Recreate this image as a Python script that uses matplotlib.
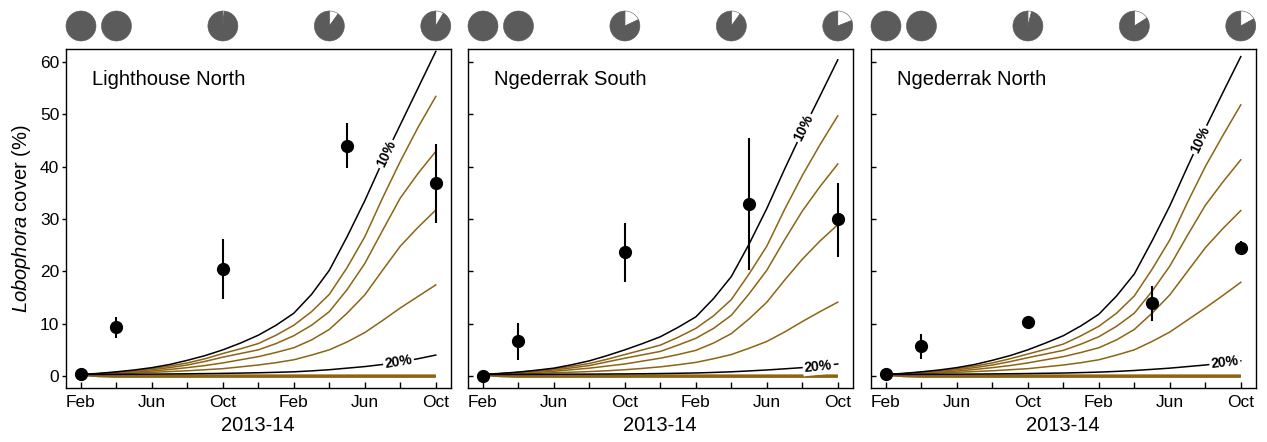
import numpy as np
import matplotlib
matplotlib.use('Agg')
import matplotlib.pyplot as plt

plt.rcParams['font.family'] = ['Liberation Sans', 'DejaVu Sans']
plt.rcParams['mathtext.fontset'] = 'custom'
plt.rcParams['mathtext.rm'] = 'Liberation Sans'
plt.rcParams['mathtext.it'] = 'Liberation Sans:italic'

# ---------------- data ----------------
sites = ['Lighthouse North', 'Ngederrak South', 'Ngederrak North']

tick_months = [0, 4, 8, 12, 16, 20]
tick_labels = ['Feb', 'Jun', 'Oct', 'Feb', 'Jun', 'Oct']
minor_months = [2, 6, 10, 14, 18]

curve_months = list(range(21))  # Feb 2013 .. Oct 2014, monthly

black10 = [
    [0.3, 0.5, 0.8, 1.15, 1.6, 2.2, 3.0, 3.9, 5.0, 6.3, 7.8, 9.7, 12.0, 15.6, 20.2, 26.6, 33.5, 41.0, 48.0, 55.0, 62.0],
    [0.3, 0.5, 0.75, 1.1, 1.5, 2.15, 2.9, 3.9, 5.0, 6.2, 7.5, 9.3, 11.3, 14.8, 19.0, 25.2, 32.0, 39.5, 46.7, 53.5, 60.4],
    [0.3, 0.5, 0.8, 1.15, 1.6, 2.2, 3.0, 3.9, 5.0, 6.3, 7.7, 9.6, 11.8, 15.3, 19.5, 25.8, 32.5, 40.0, 47.3, 54.2, 61.0],
]
brown1 = [
    [0.3, 0.45, 0.7, 1.0, 1.4, 1.9, 2.5, 3.3, 4.3, 5.2, 6.2, 7.8, 9.7, 12.3, 15.6, 20.7, 26.6, 34.0, 41.0, 47.5, 53.4],
    [0.3, 0.45, 0.7, 1.0, 1.35, 1.85, 2.4, 3.2, 4.1, 5.0, 5.9, 7.4, 9.1, 11.5, 14.6, 19.5, 24.8, 31.8, 38.3, 44.2, 49.7],
    [0.3, 0.45, 0.7, 1.0, 1.4, 1.9, 2.5, 3.3, 4.2, 5.1, 6.1, 7.7, 9.5, 12.0, 15.3, 20.4, 26.0, 33.2, 40.0, 46.0, 51.8],
]
brown2 = [
    [0.3, 0.45, 0.65, 0.9, 1.2, 1.6, 2.1, 2.8, 3.6, 4.3, 5.0, 6.2, 7.7, 9.7, 12.3, 16.5, 21.5, 27.8, 34.0, 38.7, 42.9],
    [0.3, 0.45, 0.65, 0.9, 1.15, 1.55, 2.0, 2.7, 3.4, 4.05, 4.7, 5.9, 7.2, 9.1, 11.6, 15.7, 20.2, 26.0, 31.5, 36.2, 40.5],
    [0.3, 0.45, 0.65, 0.9, 1.2, 1.6, 2.1, 2.75, 3.5, 4.2, 4.9, 6.1, 7.5, 9.5, 12.0, 16.2, 21.0, 26.9, 32.6, 37.1, 41.3],
]
brown3 = [
    [0.3, 0.42, 0.55, 0.73, 0.95, 1.25, 1.6, 2.0, 2.5, 3.1, 3.7, 4.5, 5.4, 6.9, 8.9, 12.0, 15.5, 20.2, 24.8, 28.4, 31.7],
    [0.3, 0.4, 0.55, 0.7, 0.9, 1.2, 1.5, 1.9, 2.3, 2.85, 3.4, 4.1, 4.9, 6.3, 8.1, 10.9, 14.1, 18.3, 22.3, 25.8, 28.9],
    [0.3, 0.42, 0.55, 0.73, 0.95, 1.25, 1.6, 2.0, 2.5, 3.1, 3.7, 4.5, 5.4, 6.9, 8.9, 12.0, 15.5, 20.0, 24.5, 28.2, 31.6],
]
brown4 = [
    [0.3, 0.37, 0.45, 0.57, 0.7, 0.85, 1.0, 1.2, 1.4, 1.75, 2.1, 2.55, 3.1, 4.0, 5.0, 6.5, 8.3, 10.6, 13.0, 15.2, 17.4],
    [0.3, 0.35, 0.42, 0.52, 0.62, 0.73, 0.85, 1.0, 1.2, 1.45, 1.75, 2.15, 2.6, 3.3, 4.1, 5.3, 6.6, 8.4, 10.4, 12.3, 14.1],
    [0.3, 0.37, 0.45, 0.57, 0.7, 0.85, 1.0, 1.2, 1.4, 1.75, 2.1, 2.55, 3.1, 4.0, 5.0, 6.6, 8.4, 10.7, 13.0, 15.4, 17.9],
]
black20 = [
    [0.3, 0.31, 0.32, 0.34, 0.36, 0.39, 0.42, 0.46, 0.5, 0.56, 0.62, 0.7, 0.8, 0.98, 1.2, 1.5, 1.8, 2.2, 2.7, 3.3, 4.0],
    [0.3, 0.3, 0.31, 0.32, 0.33, 0.35, 0.36, 0.38, 0.4, 0.43, 0.47, 0.52, 0.58, 0.68, 0.8, 0.97, 1.15, 1.37, 1.6, 1.9, 2.3],
    [0.3, 0.31, 0.32, 0.33, 0.35, 0.37, 0.4, 0.43, 0.47, 0.52, 0.57, 0.65, 0.74, 0.88, 1.05, 1.27, 1.5, 1.8, 2.1, 2.5, 2.9],
]
# heavily harvested scenarios collapsing to ~0
collapse_months = [0, 1, 2, 20]
collapse_curves = [
    [0.3, 0.10, 0.02, 0.0],
    [0.3, 0.05, -0.02, -0.02],
    [0.3, 0.02, -0.06, -0.06],
]

label10_month = [17.2, 18.1, 17.7]
label20_month = [17.9, 18.9, 19.1]

obs_months = [0, 2, 8, 15, 20]
obs_mean = [
    [0.3, 9.3, 20.4, 44.0, 36.8],
    [0.0, 6.6, 23.6, 32.9, 29.9],
    [0.3, 5.7, 10.4, 13.9, 24.5],
]
obs_lo = [
    [0.3, 7.3, 14.8, 39.7, 29.3],
    [0.0, 3.1, 17.9, 20.3, 22.8],
    [0.3, 3.2, 10.4, 10.6, 23.3],
]
obs_hi = [
    [0.3, 11.2, 26.1, 48.4, 44.3],
    [0.0, 10.1, 29.2, 45.5, 36.9],
    [0.3, 8.0, 10.4, 17.1, 25.7],
]

pie_months = [0, 2, 8, 14, 20]
pie_white = [
    [0.0, 0.0, 0.015, 0.10, 0.085],
    [0.0, 0.0, 0.18, 0.10, 0.19],
    [0.0, 0.0, 0.04, 0.16, 0.17],
]

# ---------------- style ----------------
BROWN = '#8c6414'
PIEGREY = '#5b5b5b'
W, H = 1267, 442
fig = plt.figure(figsize=(W / 100, H / 100), dpi=100)

lefts_px = [66, 468, 871]
ax_w_px, top_px, bot_px = 384.5, 49.5, 388.3
xlim = (-0.845, 20.83)
ylim = (-2.35, 62.37)

for i in range(3):
    ax = fig.add_axes([lefts_px[i] / W, (H - bot_px) / H, ax_w_px / W, (bot_px - top_px) / H])
    ax.set_xlim(*xlim)
    ax.set_ylim(*ylim)

    for s in ax.spines.values():
        s.set_linewidth(1.0)

    # model curves
    for c in collapse_curves:
        ax.plot(collapse_months, c, color=BROWN, lw=2.0, solid_capstyle='butt', zorder=2)
    for series in (brown4, brown3, brown2, brown1):
        ax.plot(curve_months, series[i], color=BROWN, lw=1.1, zorder=2)
    ax.plot(curve_months, black20[i], color='black', lw=1.1, zorder=3)
    ax.plot(curve_months, black10[i], color='black', lw=1.1, zorder=3)

    # inline labels
    def put_label(series, m, txt):
        v = np.interp(m, curve_months, series)
        p1 = ax.transData.transform((m - 0.4, np.interp(m - 0.4, curve_months, series)))
        p2 = ax.transData.transform((m + 0.4, np.interp(m + 0.4, curve_months, series)))
        ang = np.degrees(np.arctan2(p2[1] - p1[1], p2[0] - p1[0]))
        ax.text(m, v, txt, rotation=ang, rotation_mode='anchor', ha='center', va='center',
                fontsize=10, fontweight='bold', color='black', zorder=4,
                bbox=dict(facecolor='white', edgecolor='none', pad=1.2))
    put_label(black10[i], label10_month[i], '10%')
    put_label(black20[i], label20_month[i], '20%')

    # observations
    mean = np.array(obs_mean[i])
    lo = np.array(obs_lo[i])
    hi = np.array(obs_hi[i])
    ax.errorbar(obs_months, mean, yerr=[mean - lo, hi - mean], fmt='o', color='black',
                ms=8.5, elinewidth=1.5, capsize=0, zorder=6)

    ax.text(0.068, 0.91, sites[i], transform=ax.transAxes, fontsize=14.5,
            ha='left', va='center')

    # ticks
    ax.set_xticks(tick_months)
    ax.set_xticklabels(tick_labels)
    ax.set_xticks(minor_months, minor=True)
    ax.tick_params(axis='x', which='both', direction='in', length=4.0, width=1.0,
                   labelsize=12.5, pad=5)
    ax.set_yticks([0, 10, 20, 30, 40, 50, 60])
    if i == 0:
        ax.tick_params(axis='y', direction='out', length=3.0, width=1.0, labelsize=12.5, pad=1.8)
        ax.set_ylabel(r'$\mathit{Lobophora}$ cover (%)', fontsize=14.5, labelpad=5)
    else:
        ax.tick_params(axis='y', direction='in', length=3.5, width=1.0, labelleft=False)
    ax.set_xlabel('2013-14', fontsize=14.5, labelpad=4)

    # pies above panel
    px_per_month = ax_w_px / (xlim[1] - xlim[0])
    ax_h_px = bot_px - top_px
    pw = 30.0 / px_per_month
    ph = 30.0 / ax_h_px
    yc = 1.0 + 23.5 / ax_h_px
    trans = ax.get_xaxis_transform()
    for m, f in zip(pie_months, pie_white[i]):
        pax = ax.inset_axes([m - pw / 2, yc - ph / 2, pw, ph], transform=trans)
        if f > 0:
            vals, cols = [f, 1 - f], ['white', PIEGREY]
        else:
            vals, cols = [1], [PIEGREY]
        pax.pie(vals, colors=cols, startangle=90, counterclock=False, radius=1.25,
                wedgeprops=dict(edgecolor=PIEGREY, linewidth=0.4))

fig.savefig('out.png', dpi=100)
